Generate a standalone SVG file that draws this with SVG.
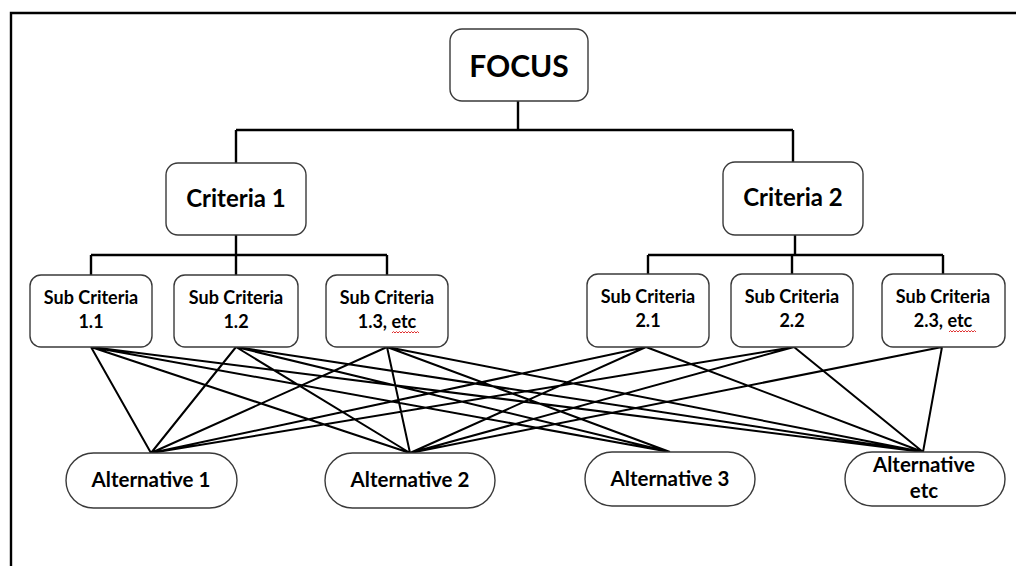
<svg xmlns="http://www.w3.org/2000/svg" width="1016" height="566" viewBox="0 0 1016 566">
<defs>
<style>
.box{fill:#fff;stroke:#3a3a3a;stroke-width:1.4}
.t{font-family:Lato,"Liberation Sans",sans-serif;font-weight:700;fill:#000;text-anchor:middle}
.tree{fill:none;stroke:#000;stroke-width:2.4}
.link{fill:none;stroke:#000;stroke-width:2}
.sq{fill:none;stroke:#e03030;stroke-width:1}
</style>
</defs>
<rect width="1016" height="566" fill="#fff"/>
<path d="M11,566 V13 H1016" fill="none" stroke="#000" stroke-width="2.4"/>
<g id="connectors">
<path class="tree" d="M518,101 V130 M236,130 H793 M236,130 V163 M793,130 V162"/>
<path class="tree" d="M236,235 V255 M91,255 H387 M91,255 V275 M236,255 V275 M387,255 V275"/>
<path class="tree" d="M795,235 V255 M648,255 H943 M648,255 V275 M792,255 V275 M943,255 V275"/>
<path class="link" d="M91,347 L151,453 M91,347 L410,453 M91,347 L670,452 M91,347 L923,452
M236,347 L151,453 M236,347 L410,453 M236,347 L670,452 M236,347 L923,452
M387,347 L151,453 M387,347 L410,453 M387,347 L670,452 M387,347 L923,452
M646,347 L151,453 M646,347 L410,453 M646,347 L923,452
M794,347 L151,453 M794,347 L410,453 M794,347 L923,452
M942,347 L410,453 M942,347 L923,452"/>
</g>
<g id="focus">
<rect class="box" x="450" y="29" width="138" height="72" rx="12"/>
<text class="t" x="519" y="77" font-size="30">FOCUS</text>
</g>
<g id="criteria1">
<rect class="box" x="166" y="163" width="140" height="72" rx="12"/>
<text class="t" x="236" y="207" font-size="24">Criteria 1</text>
</g>
<g id="criteria2">
<rect class="box" x="723" y="162" width="140" height="73" rx="12"/>
<text class="t" x="793" y="206" font-size="24">Criteria 2</text>
</g>
<g id="sub11">
<rect class="box" x="30" y="275" width="122" height="72" rx="11"/>
<text class="t" x="91" y="304" font-size="18">Sub Criteria</text>
<text class="t" x="91" y="328" font-size="18">1.1</text>
</g>
<g id="sub12">
<rect class="box" x="174" y="275" width="124" height="72" rx="11"/>
<text class="t" x="236" y="304" font-size="18">Sub Criteria</text>
<text class="t" x="236" y="328" font-size="18">1.2</text>
</g>
<g id="sub13">
<rect class="box" x="326" y="275" width="122" height="72" rx="11"/>
<text class="t" x="387" y="304" font-size="18">Sub Criteria</text>
<text class="t" x="387" y="328" font-size="18">1.3, etc</text>
<path class="sq" d="M392,333 l1.5,-1.5 l1.5,1.5 l1.5,-1.5 l1.5,1.5 l1.5,-1.5 l1.5,1.5 l1.5,-1.5 l1.5,1.5 l1.5,-1.5 l1.5,1.5 l1.5,-1.5 l1.5,1.5 l1.5,-1.5 l1.5,1.5 l1.5,-1.5 l1.5,1.5 l1.5,-1.5 l1.5,1.5"/>
</g>
<g id="sub21">
<rect class="box" x="587" y="274" width="122" height="73" rx="11"/>
<text class="t" x="648" y="303" font-size="18">Sub Criteria</text>
<text class="t" x="648" y="327" font-size="18">2.1</text>
</g>
<g id="sub22">
<rect class="box" x="731" y="274" width="122" height="73" rx="11"/>
<text class="t" x="792" y="303" font-size="18">Sub Criteria</text>
<text class="t" x="792" y="327" font-size="18">2.2</text>
</g>
<g id="sub23">
<rect class="box" x="882" y="274" width="123" height="73" rx="11"/>
<text class="t" x="943" y="303" font-size="18">Sub Criteria</text>
<text class="t" x="943" y="327" font-size="18">2.3, etc</text>
<path class="sq" d="M949,332 l1.5,-1.5 l1.5,1.5 l1.5,-1.5 l1.5,1.5 l1.5,-1.5 l1.5,1.5 l1.5,-1.5 l1.5,1.5 l1.5,-1.5 l1.5,1.5 l1.5,-1.5 l1.5,1.5 l1.5,-1.5 l1.5,1.5 l1.5,-1.5 l1.5,1.5 l1.5,-1.5 l1.5,1.5"/>
</g>
<g id="alt1">
<rect class="box" x="66" y="453" width="171" height="55" rx="27.5"/>
<text class="t" x="151" y="487" font-size="20.5">Alternative 1</text>
</g>
<g id="alt2">
<rect class="box" x="325" y="453" width="170" height="55" rx="27.5"/>
<text class="t" x="410" y="487" font-size="20.5">Alternative 2</text>
</g>
<g id="alt3">
<rect class="box" x="585" y="452" width="170" height="54" rx="27"/>
<text class="t" x="670" y="486" font-size="20.5">Alternative 3</text>
</g>
<g id="altetc">
<rect class="box" x="845" y="452" width="160" height="54" rx="27"/>
<text class="t" x="924" y="472" font-size="20.5">Alternative</text>
<text class="t" x="924" y="498" font-size="20.5">etc</text>
</g>
</svg>
